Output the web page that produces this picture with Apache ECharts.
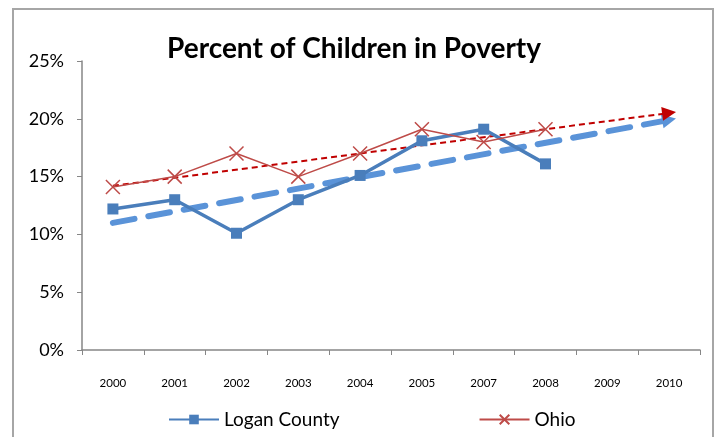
<!DOCTYPE html>
<html><head><meta charset="utf-8">
<script src="https://cdn.jsdelivr.net/npm/echarts@6/dist/echarts.min.js"></script>
<style>
html,body{margin:0;padding:0;background:#fff;}
#frame{position:absolute;left:12px;top:8px;width:702px;height:440px;border:2px solid #a6a6a6;box-sizing:border-box;}
#c{position:absolute;left:0;top:0;width:719px;height:437px;}
</style></head>
<body><div id="frame"></div><div id="c"></div>
<script>
var categories = ['2000','2001','2002','2003','2004','2005','2007','2008','2009','2010'];
var loganCounty = [12.2, 13, 10.1, 13, 15.1, 18.1, 19.1, 16.1, null, null];
var ohio = [14.1, 15, 17, 15, 17, 19.1, 18, 19.1, null, null];
// trendline endpoints (2000 and 2010)
var loganTrend = [11.0, null, null, null, null, null, null, null, null, 19.9];
var ohioTrend = [14.2, null, null, null, null, null, null, null, null, 20.5];
var yTicks = [0, 5, 10, 15, 20, 25];

var font = 'Lato, "Open Sans", sans-serif';
var chart = echarts.init(document.getElementById('c'));
function endArrow(arr, rot, size){
  return arr.map(function(v,i){
    if(i === arr.length-1) return {value:v, symbol:'triangle', symbolSize:size, symbolRotate:rot};
    return {value:v, symbol:'none'};
  });
}
chart.setOption({
  animation:false,
  title:{text:'Percent of Children in Poverty', left:162, top:30,
    textStyle:{fontFamily:font, fontWeight:'bold', fontSize:28, color:'#000'}},
  grid:{left:82, right:19, top:61, bottom:87},
  legend:{bottom:3, left:163, itemGap:139, itemWidth:50, itemHeight:12,
    textStyle:{fontFamily:font, fontSize:19, color:'#000'},
    data:['Logan County','Ohio']},
  xAxis:{type:'category', data:categories, boundaryGap:true,
    axisLine:{lineStyle:{color:'#868686', width:1.5}},
    axisTick:{show:true, length:5, lineStyle:{color:'#868686'}},
    axisLabel:{color:'#000', fontFamily:font, fontSize:11.5, margin:27}},
  yAxis:{type:'value', min:yTicks[0], max:yTicks[yTicks.length-1], interval:5,
    splitLine:{show:false},
    axisLine:{show:true, lineStyle:{color:'#868686', width:1.5}},
    axisTick:{show:true, length:5, lineStyle:{color:'#868686'}},
    axisLabel:{color:'#000', fontFamily:font, fontSize:18, margin:18, formatter:'{value}%'}},
  series:[
    {name:'Logan trend', type:'line', data:endArrow(loganTrend,-79,14), connectNulls:true,
     lineStyle:{color:'#5a93d8', width:6, type:[22,14], cap:'round'},
     itemStyle:{color:'#5a93d8'}, z:1, silent:true},
    {name:'Ohio trend', type:'line', data:endArrow(ohioTrend,-82.5,14), connectNulls:true,
     lineStyle:{color:'#c00000', width:2, type:[6,4]},
     itemStyle:{color:'#c00000'}, z:3, silent:true},
    {name:'Logan County', type:'line', data:loganCounty, symbol:'rect', symbolSize:11,
     lineStyle:{color:'#4a7ebb', width:3.5}, itemStyle:{color:'#4a7ebb'}, z:4},
    {name:'Ohio', type:'line', data:ohio, symbol:'path://M0,0L10,10M10,0L0,10', symbolSize:14,
     lineStyle:{color:'#be4b48', width:1.5},
     itemStyle:{color:'#be4b48', borderColor:'#be4b48', borderWidth:1.5}, z:5}
  ]
});
</script></body></html>
